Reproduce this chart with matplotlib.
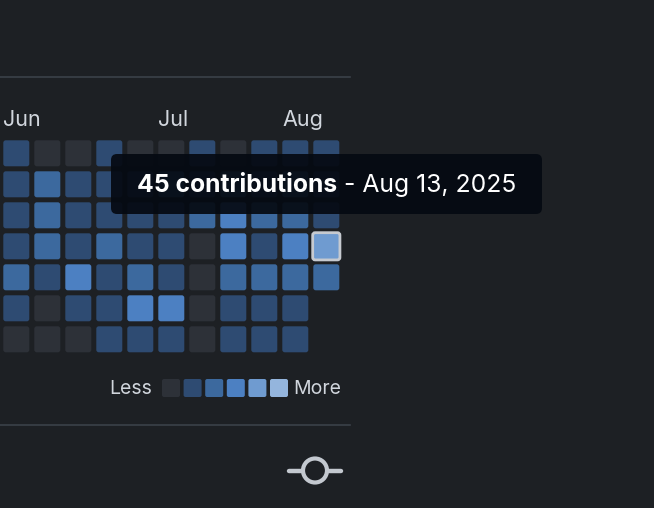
import numpy as np
import matplotlib
matplotlib.use("Agg")
import matplotlib.pyplot as plt
from matplotlib.patches import FancyBboxPatch, Circle
from matplotlib.lines import Line2D

plt.rcParams['font.family'] = ['Inter', 'DejaVu Sans']

# ---- data ----
n = np.nan
# rows = weekday (Sun..Sat), columns = weeks; value = contribution level (0..5)
levels = np.array([
    [1, 0, 0, 1, 0, 0, 1, 0, 1, 1, 1],
    [1, 2, 1, 1, 1, 2, 1, 2, 1, 2, 1],
    [1, 2, 1, 1, 1, 1, 2, 3, 2, 2, 1],
    [1, 2, 1, 2, 1, 1, 0, 3, 1, 3, 4],
    [2, 1, 3, 1, 2, 1, 0, 2, 2, 2, 2],
    [1, 0, 1, 1, 3, 3, 0, 1, 1, 1, n],
    [0, 0, 0, 1, 1, 1, 0, 1, 1, 1, n],
])
level_colors = ['#2d3138', '#2e4b72', '#3c699e', '#4c80c2', '#6f9bd0', '#94b5dd']
month_labels = ['Jun', 'Jul', 'Aug']
month_cols = [0, 5, 9]
highlight = (3, 10)  # (row, col)
tooltip_bold = '45 contributions'
tooltip_rest = ' - Aug 13, 2025'
legend_less, legend_more = 'Less', 'More'

BG = '#1d2024'
FG = '#d1d6dd'
LINE = '#3b4149'

W, H = 654, 508
fig = plt.figure(figsize=(W / 100, H / 100), dpi=100, facecolor=BG)

# ---- heatmap axes (data coords = week/day indices) ----
pitch = 31.0
left_px, top_px = 0.8, 137.8
ncols, nrows = levels.shape[1], levels.shape[0]
ax = fig.add_axes([left_px / W, (H - top_px - nrows * pitch) / H,
                   ncols * pitch / W, nrows * pitch / H])
ax.set_xlim(-0.5, ncols - 0.5)
ax.set_ylim(nrows - 0.5, -0.5)
ax.axis('off')
cell = 26 / pitch
rnd = 2.5 / pitch
for r in range(nrows):
    for c in range(ncols):
        v = levels[r, c]
        if np.isnan(v):
            continue
        ax.add_patch(FancyBboxPatch((c - cell / 2, r - cell / 2), cell, cell,
                                    boxstyle=f'round,pad=0,rounding_size={rnd}',
                                    facecolor=level_colors[int(v)], edgecolor='none'))
hr, hc = highlight
ax.add_patch(FancyBboxPatch((hc - cell / 2 - 0.02, hr - cell / 2 - 0.02), cell + 0.04, cell + 0.04,
                            boxstyle=f'round,pad=0,rounding_size={rnd}',
                            facecolor='none', edgecolor='#c6cad0', linewidth=2.0))
for lab, col in zip(month_labels, month_cols):
    ax.text(col - cell / 2 - 0.01, -0.5 - 12.7 / pitch + 0.03, lab, color=FG, fontsize=15.5,
            ha='left', va='baseline', clip_on=False)

# ---- overlay axes in pixel coordinates ----
ov = fig.add_axes([0, 0, 1, 1], zorder=5)
ov.set_xlim(0, W)
ov.set_ylim(H, 0)
ov.axis('off')
ov.patch.set_alpha(0)

ov.add_line(Line2D([0, 350], [76.5, 76.5], color=LINE, lw=1.2))
ov.add_line(Line2D([0, 350], [424.5, 424.5], color=LINE, lw=1.2))

# legend
ov.text(152, 389, legend_less, color=FG, fontsize=14, ha='right', va='center')
for i, colr in enumerate(level_colors):
    x0 = 162 + i * 21.6
    ov.add_patch(FancyBboxPatch((x0, 379), 18, 18, boxstyle='round,pad=0,rounding_size=2',
                                facecolor=colr, edgecolor='none'))
ov.text(293, 389, legend_more, color=FG, fontsize=14, ha='left', va='center')

# icon
ov.add_line(Line2D([289, 341], [470.5, 470.5], color='#c3c8cf', lw=3.2,
                   solid_capstyle='round', zorder=2))
ov.add_patch(Circle((315, 470.5), 12, facecolor=BG, edgecolor='#c3c8cf', linewidth=3.0, zorder=3))

# tooltip
ov.add_patch(FancyBboxPatch((111, 154), 431, 60, boxstyle='round,pad=0,rounding_size=6',
                            facecolor='#050a12', edgecolor='none', alpha=0.93))
tb = ov.text(137, 185.5, tooltip_bold, color='#ffffff', fontsize=17.8, fontweight='bold',
             ha='left', va='center')
fig.canvas.draw()
bb = tb.get_window_extent(renderer=fig.canvas.get_renderer())
ov.text(bb.x1, 185.5, tooltip_rest, color='#ffffff', fontsize=17.8, ha='left', va='center')

fig.savefig('out.png', dpi=100, facecolor=BG)
